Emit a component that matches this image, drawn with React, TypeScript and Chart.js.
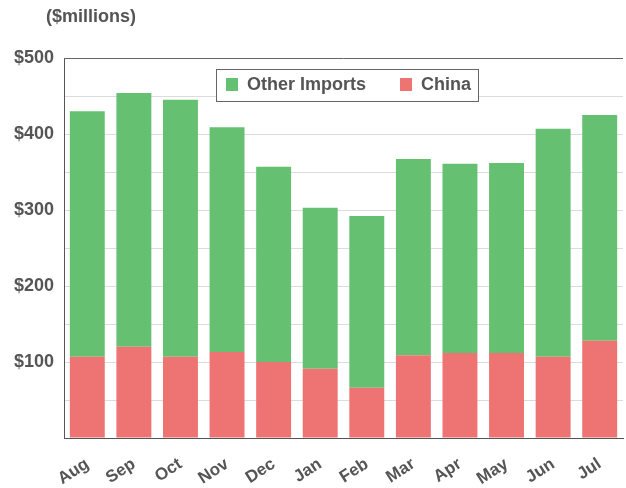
import React, { useEffect, useRef } from "react";
import { Chart, registerables } from "chart.js";

Chart.register(...registerables);

const months = ["Aug", "Sep", "Oct", "Nov", "Dec", "Jan", "Feb", "Mar", "Apr", "May", "Jun", "Jul"];
const china = [107, 120, 107, 113, 100, 91, 66, 109, 112, 112, 107, 128];
const otherImports = [323, 334, 338, 296, 257, 212, 226, 258, 249, 250, 300, 297];
const yTickLabels: Record<number, string> = { 100: "$100", 200: "$200", 300: "$300", 400: "$400", 500: "$500" };
const unitLabel = "($millions)";

const GREEN = "#66c072";
const RED = "#ee7373";
const TEXT = "#555555";
const FONT = "'Liberation Sans', Arial, sans-serif";

const decorPlugin = {
  id: "decor",
  afterDraw(chart: any) {
    const ctx = chart.ctx as CanvasRenderingContext2D;
    const ca = chart.chartArea;
    ctx.save();
    // unit label
    ctx.fillStyle = TEXT;
    ctx.font = `bold 18px ${FONT}`;
    ctx.textBaseline = "middle";
    ctx.textAlign = "left";
    ctx.fillText(unitLabel, 46, 17);
    // top border
    ctx.strokeStyle = "#666";
    ctx.lineWidth = 1;
    ctx.beginPath();
    ctx.moveTo(ca.left, ca.top + 0.5);
    ctx.lineTo(ca.right, ca.top + 0.5);
    ctx.stroke();
    // legend
    const lx = ca.left + 152;
    const ly = ca.top + 11;
    const lw = 262;
    const lh = 32;
    ctx.fillStyle = "#fff";
    ctx.fillRect(lx, ly, lw, lh);
    ctx.strokeStyle = "#666";
    ctx.strokeRect(lx + 0.5, ly + 0.5, lw, lh);
    const items = [chart.data.datasets[1], chart.data.datasets[0]];
    let x = lx + 10;
    ctx.font = `bold 18px ${FONT}`;
    items.forEach((ds: any) => {
      ctx.fillStyle = ds.backgroundColor;
      ctx.fillRect(x, ly + 9, 12, 13);
      ctx.fillStyle = TEXT;
      ctx.fillText(ds.label, x + 21, ly + 16);
      x += 21 + ctx.measureText(ds.label).width + 34;
    });
    ctx.restore();
  },
};

export default function App() {
  const ref = useRef<HTMLCanvasElement>(null);
  useEffect(() => {
    if (!ref.current) return;
    const chart = new Chart(ref.current, {
      type: "bar",
      data: {
        labels: months,
        datasets: [
          { label: "China", data: china, backgroundColor: RED },
          { label: "Other Imports", data: otherImports, backgroundColor: GREEN },
        ],
      },
      plugins: [decorPlugin],
      options: {
        animation: false,
        responsive: false,
        layout: { padding: { top: 58, right: 3, left: 0, bottom: 0 } },
        plugins: { legend: { display: false }, tooltip: { enabled: false } },
        datasets: { bar: { categoryPercentage: 1, barPercentage: 0.75 } },
        scales: {
          x: {
            stacked: true,
            grid: { display: false },
            border: { color: "#555", width: 1 },
            ticks: {
              color: TEXT,
              font: { family: FONT, size: 17, weight: "bold" },
              maxRotation: 33,
              minRotation: 33,
              padding: 8,
            },
            afterFit(scale: any) {
              scale.height = 50;
            },
          },
          y: {
            stacked: true,
            min: 0,
            max: 500,
            grid: { color: "#dcdcdc", drawTicks: false },
            border: { color: "#555", width: 1 },
            ticks: {
              stepSize: 50,
              autoSkip: false,
              padding: 10,
              color: TEXT,
              font: { family: FONT, size: 18, weight: "bold" },
              callback: (v: any) => yTickLabels[v as number] ?? "",
            },
            afterFit(scale: any) {
              scale.width = 64;
            },
          },
        },
      },
    } as any);
    return () => chart.destroy();
  }, []);
  return (
    <div style={{ position: "fixed", left: 0, top: 0, width: 626, height: 488, background: "#fff" }}>
      <canvas ref={ref} width={626} height={488} style={{ display: "block" }} />
    </div>
  );
}
